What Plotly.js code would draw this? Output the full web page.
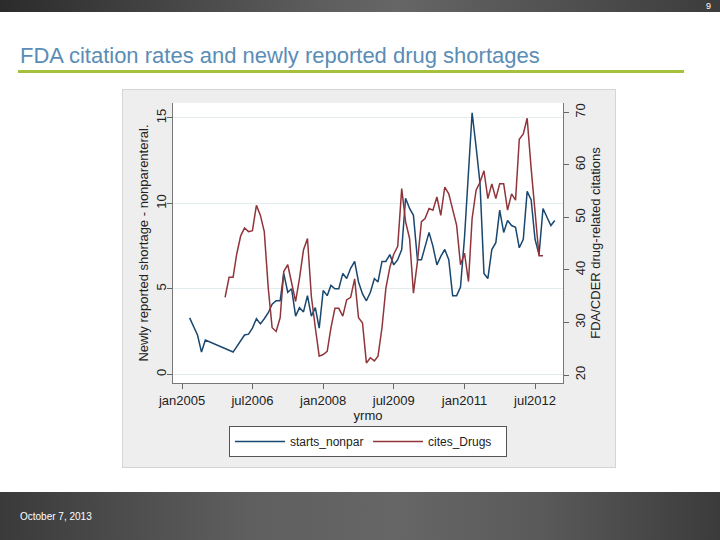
<!DOCTYPE html>
<html>
<head>
<meta charset="utf-8">
<script src="https://cdn.plot.ly/plotly-3.0.1.min.js"></script>
<style>
  html, body { margin: 0; padding: 0; background: #ffffff; }
  #wrap { position: relative; width: 720px; height: 540px; overflow: hidden; background: #ffffff; }
  #topbar { position: absolute; left: 0; top: 0; width: 720px; height: 12px;
    background: linear-gradient(to right, #2b2b2b 0%, #5e5e5e 45%, #666666 55%, #3c3c3c 100%); }
  #footer { position: absolute; left: 0; top: 492px; width: 720px; height: 48px;
    background: linear-gradient(to right, #3a3a3a 0%, #5f5f5f 35%, #666666 55%, #5a5a5a 75%, #3b3b3b 100%); }
  #graybox { position: absolute; left: 122px; top: 89px; width: 492px; height: 377px;
    background: #eeeeee; border: 1px solid #d4d4d4; }
  #chart { position: absolute; left: 0; top: 0; width: 720px; height: 540px; }
</style>
</head>
<body>
<div id="wrap">
  <div id="topbar"></div>
  <div id="footer"></div>
  <div id="graybox"></div>
  <div id="chart"></div>
</div>
<script>
// ---- data ----
const blueMonths = [
  "2005-03","2005-04","2005-05","2005-06","2005-07",
  "2006-02","2006-03","2006-04","2006-05","2006-06","2006-07","2006-08","2006-09","2006-10","2006-11","2006-12",
  "2007-01","2007-02","2007-03","2007-04","2007-05","2007-06","2007-07","2007-08","2007-09","2007-10","2007-11","2007-12",
  "2008-01","2008-02","2008-03","2008-04","2008-05","2008-06","2008-07","2008-08","2008-09","2008-10","2008-11","2008-12",
  "2009-01","2009-02","2009-03","2009-04","2009-05","2009-06","2009-07","2009-08","2009-09","2009-10","2009-11","2009-12",
  "2010-01","2010-02","2010-03","2010-04","2010-05","2010-06","2010-07","2010-08","2010-09","2010-10","2010-11","2010-12",
  "2011-01","2011-02","2011-03","2011-04","2011-05","2011-06","2011-07","2011-08","2011-09","2011-10","2011-11","2011-12",
  "2012-01","2012-02","2012-03","2012-04","2012-05","2012-06","2012-07","2012-08","2012-09","2012-10","2012-11","2012-12"
];
const startsNonpar = [
  3.3, 2.8, 2.3, 1.3, 2.0,
  1.3, 1.6, 2.0, 2.3, 2.35, 2.7, 3.25, 2.95, 3.25, 3.6, 4.1,
  4.3, 4.3, 5.9, 4.8, 5.0, 3.4, 3.9, 3.65, 4.6, 3.4, 3.9, 2.7,
  4.9, 4.6, 5.2, 5.0, 5.0, 5.9, 5.6, 6.2, 6.6, 5.4, 4.7, 4.3,
  4.8, 5.6, 5.4, 6.6, 6.6, 7.0, 6.4, 6.7, 7.3, 10.3, 9.7, 9.3,
  6.7, 6.7, 7.5, 8.3, 7.5, 6.4, 6.9, 7.3, 6.7, 4.6, 4.6, 5.1,
  8.0, 11.5, 15.3, 13.3, 11.2, 5.9, 5.6, 7.3, 7.7, 9.6, 8.3, 9.0,
  8.7, 8.6, 7.4, 7.9, 10.7, 10.2, 7.9, 7.0, 9.7, 9.2, 8.7, 9.0
];
const redMonths = [
  "2005-12",
  "2006-01","2006-02","2006-03","2006-04","2006-05","2006-06","2006-07","2006-08","2006-09","2006-10","2006-11","2006-12",
  "2007-01","2007-02","2007-03","2007-04","2007-05","2007-06","2007-07","2007-08","2007-09","2007-10","2007-11","2007-12",
  "2008-01","2008-02","2008-03","2008-04","2008-05","2008-06","2008-07","2008-08","2008-09","2008-10","2008-11","2008-12",
  "2009-01","2009-02","2009-03","2009-04","2009-05","2009-06","2009-07","2009-08","2009-09","2009-10","2009-11","2009-12",
  "2010-01","2010-02","2010-03","2010-04","2010-05","2010-06","2010-07","2010-08","2010-09","2010-10","2010-11","2010-12",
  "2011-01","2011-02","2011-03","2011-04","2011-05","2011-06","2011-07","2011-08","2011-09","2011-10","2011-11","2011-12",
  "2012-01","2012-02","2012-03","2012-04","2012-05","2012-06","2012-07","2012-08","2012-09"
];
const citesDrugs = [
  34.8,
  38.6, 38.6, 43.0, 46.5, 48.0, 47.3, 47.5, 52.3, 50.4, 47.3, 36.5, 29.0,
  28.3, 30.9, 39.7, 41.0, 37.2, 34.0, 38.4, 43.8, 46.0, 35.0, 29.0, 23.6,
  23.9, 24.5, 29.0, 32.7, 32.7, 31.2, 34.3, 34.8, 38.3, 30.9, 29.9, 22.3,
  23.3, 22.7, 23.6, 29.0, 36.5, 40.5, 43.0, 44.5, 55.5, 49.2, 46.0, 35.6,
  41.6, 49.2, 49.8, 51.7, 51.4, 53.9, 50.4, 55.8, 54.5, 51.7, 48.5, 41.0,
  43.2, 37.8, 49.8, 55.2, 56.7, 58.9, 53.6, 56.4, 53.6, 56.4, 56.4, 51.4,
  54.5, 53.3, 64.9, 65.9, 68.9, 59.3, 50.4, 42.7, 42.7
];
const xTickVals = ["2005-01-01","2006-07-01","2008-01-01","2009-07-01","2011-01-01","2012-07-01"];
const xTickText = ["jan2005","jul2006","jan2008","jul2009","jan2011","jul2012"];
const leftTicks = [0, 5, 10, 15];
const rightTicks = [20, 30, 40, 50, 60, 70];

const toDate = m => m + "-01";

const FONT = "Liberation Sans, Arial, Helvetica, sans-serif";

const traces = [
  {
    x: blueMonths.map(toDate), y: startsNonpar, type: "scatter", mode: "lines",
    name: "starts_nonpar", line: { color: "#1a476f", width: 1.5 }, yaxis: "y"
  },
  {
    x: redMonths.map(toDate), y: citesDrugs, type: "scatter", mode: "lines",
    name: "cites_Drugs", line: { color: "#90353b", width: 1.5 }, yaxis: "y2"
  }
];

// plot area: x 173..563, y 103..383
const L = 173, R = 563, T = 103, B = 383;
const px = v => (v - L) / (R - L);
const py = v => (B - v) / (B - T);

const layout = {
  width: 720, height: 540,
  margin: { l: L, r: 720 - R, t: T, b: 540 - B, pad: 0 },
  paper_bgcolor: "rgba(0,0,0,0)",
  plot_bgcolor: "#ffffff",
  font: { family: FONT, size: 13, color: "#222222" },
  showlegend: true,
  legend: {
    orientation: "h", x: px(368), xanchor: "center", y: py(426), yanchor: "top",
    bgcolor: "#ffffff", bordercolor: "#555555", borderwidth: 1,
    font: { family: FONT, size: 12, color: "#222222" },
    entrywidth: 73, itemwidth: 50, tracegroupgap: 0
  },
  xaxis: {
    type: "date", range: ["2004-10-23", "2013-02-03"],
    tickmode: "array", tickvals: xTickVals, ticktext: xTickText,
    ticks: "outside", ticklen: 5, tickcolor: "#666666",
    showline: true, linecolor: "#777777", linewidth: 1,
    showgrid: false, zeroline: false,
    tickfont: { family: FONT, size: 13, color: "#222222" },
    title: { text: "yrmo", font: { family: FONT, size: 13, color: "#222222" }, standoff: 0 }
  },
  yaxis: {
    range: [-0.51, 15.87], tickmode: "array", tickvals: leftTicks,
    ticks: "outside", ticklen: 5, tickcolor: "#666666", tickangle: -90,
    ticklabelstandoff: -4,
    showline: true, linecolor: "#777777", linewidth: 1,
    showgrid: true, gridcolor: "#e3ecef", gridwidth: 1, zeroline: false,
    tickfont: { family: FONT, size: 13, color: "#222222" },
    title: { text: "Newly reported shortage - nonparenteral.", font: { family: FONT, size: 13, color: "#222222" }, standoff: 2 }
  },
  yaxis2: {
    overlaying: "y", side: "right",
    range: [18.48, 71.8], tickmode: "array", tickvals: rightTicks,
    ticks: "outside", ticklen: 5, tickcolor: "#666666", tickangle: -90,
    showline: true, linecolor: "#777777", linewidth: 1,
    showgrid: false, zeroline: false,
    tickfont: { family: FONT, size: 13, color: "#222222" },
    title: { text: "FDA/CDER drug-related citations", font: { family: FONT, size: 13, color: "#222222" }, standoff: 1 }
  },
  shapes: [
    { type: "line", xref: "paper", yref: "paper",
      x0: px(18), x1: px(684), y0: py(71.5), y1: py(71.5),
      line: { color: "#a6c23c", width: 3 } }
  ],
  annotations: [
    { xref: "paper", yref: "paper", x: px(18), y: py(56), xanchor: "left", yanchor: "middle",
      text: "FDA citation rates and newly reported drug shortages", showarrow: false,
      font: { family: FONT, size: 22, color: "#5a8db6" } },
    { xref: "paper", yref: "paper", x: px(713), y: py(6), xanchor: "right", yanchor: "middle",
      text: "9", showarrow: false, font: { family: FONT, size: 9, color: "#ffffff" } },
    { xref: "paper", yref: "paper", x: px(18), y: py(516), xanchor: "left", yanchor: "middle",
      text: "October 7, 2013", showarrow: false, font: { family: FONT, size: 10, color: "#ffffff" } }
  ]
};

Plotly.newPlot("chart", traces, layout, { displayModeBar: false, staticPlot: true });
</script>
</body>
</html>
